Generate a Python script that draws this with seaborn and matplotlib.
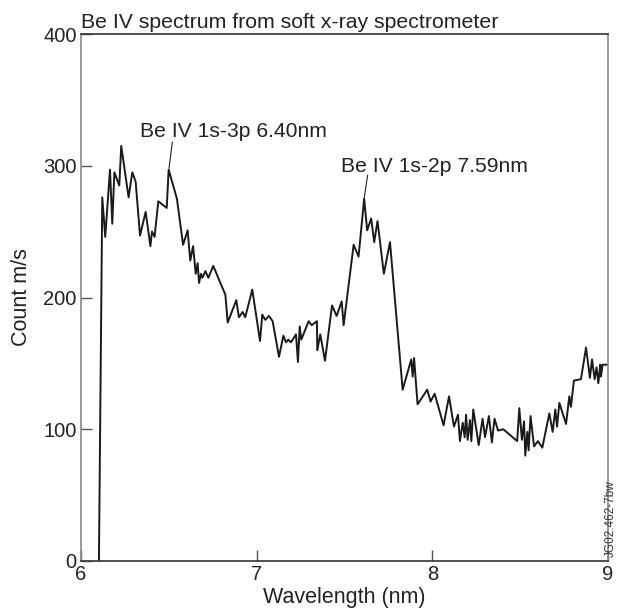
import matplotlib
matplotlib.use("Agg")
import matplotlib.pyplot as plt
import seaborn as sns
import pandas as pd

wavelength = [6.102, 6.121, 6.138, 6.165, 6.178, 6.190, 6.218, 6.229, 6.271, 6.292,
              6.311, 6.336, 6.368, 6.395, 6.404, 6.419, 6.440, 6.488, 6.499, 6.546,
              6.581, 6.607, 6.622, 6.638, 6.653, 6.664, 6.672, 6.683, 6.691, 6.708,
              6.725, 6.753, 6.822, 6.835, 6.884, 6.899, 6.920, 6.935, 6.975, 7.019,
              7.032, 7.049, 7.070, 7.091, 7.127, 7.152, 7.167, 7.180, 7.195, 7.224,
              7.235, 7.245, 7.254, 7.296, 7.313, 7.343, 7.345, 7.362, 7.389, 7.429,
              7.455, 7.484, 7.495, 7.552, 7.580, 7.612, 7.629, 7.652, 7.669, 7.688,
              7.724, 7.759, 7.831, 7.880, 7.888, 7.896, 7.916, 7.971, 7.990, 8.013,
              8.064, 8.095, 8.123, 8.146, 8.157, 8.173, 8.184, 8.192, 8.201, 8.214,
              8.222, 8.233, 8.264, 8.286, 8.300, 8.322, 8.339, 8.354, 8.374, 8.404,
              8.483, 8.495, 8.510, 8.522, 8.529, 8.541, 8.548, 8.559, 8.579, 8.601,
              8.626, 8.666, 8.685, 8.700, 8.710, 8.723, 8.761, 8.780, 8.789, 8.806,
              8.846, 8.875, 8.897, 8.909, 8.924, 8.935, 8.945, 8.956, 8.960, 8.969,
              8.998]
counts = [0, 276, 246, 297, 256, 295, 285, 315, 276, 295,
          288, 247, 265, 239, 250, 246, 273, 268, 297, 275,
          240, 251, 228, 239, 218, 226, 211, 218, 215, 220,
          215, 224, 202, 181, 198, 185, 189, 185, 206, 167,
          187, 183, 186, 182, 155, 171, 166, 168, 166, 172,
          151, 178, 168, 182, 179, 182, 160, 172, 152, 194,
          186, 197, 179, 240, 231, 275, 251, 260, 242, 258,
          218, 242, 130, 153, 140, 154, 119, 130, 121, 127,
          103, 125, 102, 111, 91, 105, 94, 111, 92, 107,
          91, 115, 88, 108, 94, 110, 90, 108, 99, 100,
          91, 116, 92, 106, 80, 98, 84, 110, 87, 91,
          86, 112, 98, 115, 102, 120, 104, 125, 117, 137,
          138, 162, 139, 153, 138, 147, 135, 149, 140, 149,
          149]

title = "Be IV spectrum from soft x-ray spectrometer"
x_label = "Wavelength (nm)"
y_label = "Count m/s"
x_ticks = [6, 7, 8, 9]
y_ticks = [0, 100, 200, 300, 400]
peak_labels = ["Be IV 1s-3p 6.40nm", "Be IV 1s-2p 7.59nm"]
peak_x = [6.501, 7.607]
peak_y = [298, 271]
leader_end_x = [6.520, 7.632]
leader_end_y = [318, 293]
label_x = [6.336, 7.481]
label_y = [322, 295.5]
figure_id = "JG02.462-7bw"

sns.set_theme(style="white")
plt.rcParams['font.family'] = ['Liberation Sans', 'DejaVu Sans']

df = pd.DataFrame({"wl": wavelength, "c": counts})

fig = plt.figure(figsize=(6.18, 6.13), dpi=100)
ax = fig.add_axes([81/618, 52/613, 527/618, 527/613])
sns.lineplot(data=df, x="wl", y="c", ax=ax, sort=False, estimator=None,
             color="#1a1a1a", linewidth=1.4)

ax.set_xlim(6, 9)
ax.set_ylim(0, 400)
ax.set_xticks(x_ticks)
ax.set_yticks(y_ticks)
ax.set_xticklabels([str(t) for t in x_ticks])
ax.set_yticklabels([str(t) for t in y_ticks])
ax.tick_params(direction="in", length=8, width=1, color="#555555",
               labelsize=14.5, labelcolor="#222222", pad=3,
               bottom=True, left=True)
ax.set_xlabel(x_label, fontsize=15.5, color="#222222", labelpad=2)
ax.set_ylabel(y_label, fontsize=15.5, color="#222222", labelpad=8)
ax.set_title(title, loc="left", fontsize=15.3, color="#222222", pad=4.5)

for s in ["left", "right"]:
    ax.spines[s].set_color("#888888")
    ax.spines[s].set_linewidth(1.2)
for s in ["top", "bottom"]:
    ax.spines[s].set_color("#333333")
    ax.spines[s].set_linewidth(1.2)

for lab, px, py, ex, ey, lx, ly in zip(peak_labels, peak_x, peak_y,
                                       leader_end_x, leader_end_y, label_x, label_y):
    ax.annotate("", xy=(px, py), xytext=(ex, ey),
                arrowprops=dict(arrowstyle="-", color="#222222", lw=0.8,
                                shrinkA=0, shrinkB=0))
    ax.text(lx, ly, lab, fontsize=15.2, color="#222222", ha="left", va="baseline")

fig.text(617/618, 56/613, figure_id, rotation=90, fontsize=8.5, color="#333333",
         ha="right", va="bottom")

fig.savefig("out.png", dpi=100)
